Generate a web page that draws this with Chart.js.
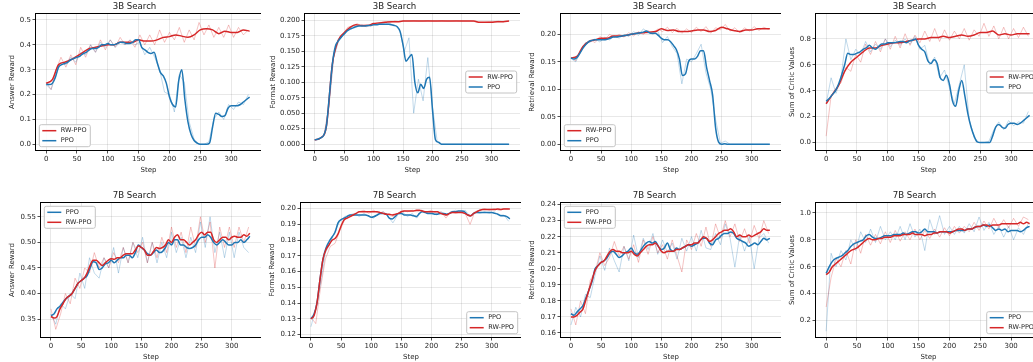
<!DOCTYPE html>
<html>
<head>
<meta charset="utf-8">
<script src="https://cdn.jsdelivr.net/npm/chart.js@4"></script>
<style>
  html, body { margin: 0; padding: 0; background: #fff; width: 1033px; height: 362px; overflow: hidden; position: relative; }
  canvas { position: absolute; }
</style>
</head>
<body>
<script>
// step grids
const steps5 = [0,5,10,15,20,25,30,35,40,45,50,55,60,65,70,75,80,85,90,95,100,105,110,115,120,125,130,135,140,145,150,155,160,165,170,175,180,185,190,195,200,205,210,215,220,225,230,235,240,245,250,255,260,265,270,275,280,285,290,295,300,305,310,315,320,325,330];
const steps10 = [0,10,20,30,40,50,60,70,80,90,100,110,120,130,140,150,160,170,180,190,200,210,220,230,240,250,260,270,280,290,300,310,320,330];
const rawSteps = [0,8,16,24,32,40,48,56,64,72,80,88,96,104,112,120,128,136,144,152,160,168,176,184,192,200,208,216,224,232,240,248,256,264,272,280,288,296,304,312,320,328];
const xTicks = [0,50,100,150,200,250,300];

// 3B answer reward
const ans3bRw = [0.245,0.26,0.32,0.33,0.34,0.355,0.37,0.385,0.39,0.395,0.40,0.40,0.41,0.41,0.41,0.42,0.415,0.415,0.42,0.43,0.433,0.44,0.435,0.43,0.44,0.46,0.465,0.46,0.445,0.455,0.45,0.45,0.46,0.455];
const ans3bPpo = [0.240,0.240,0.245,0.270,0.310,0.320,0.325,0.330,0.340,0.345,
  0.350,0.355,0.365,0.370,0.380,0.385,0.385,0.390,0.400,0.400,
  0.405,0.400,0.400,0.405,0.410,0.410,0.405,0.405,0.410,0.420,
  0.420,0.390,0.380,0.370,0.365,0.370,0.330,0.290,0.275,0.245,
  0.190,0.160,0.150,0.255,0.300,0.180,0.090,0.040,0.015,0.005,
  0.000,0.000,0.000,0.005,0.070,0.125,0.120,0.112,0.115,0.145,
  0.155,0.155,0.155,0.160,0.170,0.180,0.190];
const ans3bRwRaw = [0.25,0.22,0.30,0.35,0.31,0.36,0.32,0.39,0.35,0.40,0.37,0.42,0.38,0.42,0.39,0.43,0.40,0.42,0.39,0.44,0.40,0.44,0.40,0.46,0.41,0.45,0.42,0.47,0.41,0.46,0.42,0.49,0.44,0.48,0.43,0.47,0.43,0.48,0.43,0.47,0.44,0.46];
const ans3bPpoRaw = [0.24,0.22,0.28,0.33,0.32,0.35,0.33,0.37,0.36,0.40,0.37,0.41,0.39,0.42,0.39,0.41,0.40,0.42,0.40,0.41,0.36,0.39,0.35,0.30,0.21,0.20,0.13,0.28,0.25,0.09,0.02,0.00,0.00,0.01,0.10,0.13,0.10,0.16,0.14,0.17,0.16,0.20];
const ansTicks3b = [0,0.1,0.2,0.3,0.4,0.5];

// 3B format reward
const fmt3bRw = [0.007,0.010,0.030,0.130,0.168,0.180,0.189,0.193,0.192,0.192,0.195,0.196,0.197,0.198,0.198,0.199,0.199,0.199,0.199,0.199,0.199,0.199,0.199,0.199,0.199,0.199,0.199,0.199,0.197,0.197,0.197,0.198,0.198,0.199];
const fmt3bPpo = [0.007,0.008,0.010,0.014,0.030,0.080,0.130,0.158,0.167,0.173,
  0.178,0.183,0.186,0.188,0.190,0.191,0.191,0.191,0.192,0.192,
  0.193,0.193,0.194,0.194,0.194,0.194,0.193,0.192,0.190,0.182,
  0.160,0.134,0.140,0.145,0.100,0.083,0.097,0.090,0.105,0.108,
  0.055,0.007,0.003,0,0,0,0,0,0,0,
  0,0,0,0,0,0,0,0,0,0,
  0,0,0,0,0,0,0];
const fmt3bRwRaw = [0.006,0.009,0.015,0.060,0.140,0.170,0.178,0.189,0.191,0.195,0.191,0.193,0.191,0.196,0.197,0.198,0.197,0.199,0.198,0.199,0.199,0.200,0.199,0.199,0.200,0.199,0.199,0.200,0.199,0.199,0.200,0.199,0.199,0.199,0.198,0.197,0.197,0.198,0.198,0.199,0.198,0.199];
const fmt3bPpoRaw = [0.006,0.009,0.015,0.060,0.140,0.165,0.176,0.185,0.190,0.191,0.193,0.190,0.193,0.194,0.195,0.194,0.195,0.192,0.186,0.150,0.172,0.050,0.105,0.070,0.140,0.060,0.004,0,0,0,0,0,0,0,0,0,0,0,0,0,0,0];
const fmtTicks3b = [0,0.025,0.05,0.075,0.1,0.125,0.15,0.175,0.2];

// 3B retrieval reward
const ret3bRw = [0.157,0.160,0.178,0.187,0.190,0.193,0.193,0.197,0.197,0.198,0.200,0.202,0.203,0.204,0.205,0.210,0.207,0.208,0.205,0.205,0.206,0.208,0.208,0.205,0.207,0.213,0.210,0.207,0.205,0.208,0.208,0.210,0.210,0.210];
const ret3bPpo = [0.157,0.155,0.158,0.166,0.175,0.182,0.187,0.189,0.190,0.190,
  0.190,0.190,0.191,0.193,0.195,0.195,0.196,0.197,0.198,0.199,
  0.200,0.201,0.202,0.203,0.204,0.206,0.203,0.202,0.202,0.198,
  0.193,0.190,0.190,0.187,0.180,0.172,0.155,0.125,0.128,0.150,
  0.155,0.155,0.160,0.170,0.170,0.140,0.116,0.090,0.030,0.004,
  0,0.001,0,0,0,0,0,0,0,0,
  0,0,0,0,0,0,0];
const ret3bRwRaw = [0.158,0.152,0.172,0.180,0.190,0.185,0.196,0.190,0.200,0.195,0.200,0.195,0.203,0.197,0.205,0.200,0.207,0.201,0.210,0.205,0.213,0.203,0.211,0.202,0.210,0.203,0.213,0.205,0.214,0.202,0.212,0.208,0.218,0.206,0.212,0.203,0.212,0.206,0.214,0.207,0.213,0.209];
const ret3bPpoRaw = [0.156,0.150,0.168,0.185,0.186,0.192,0.186,0.195,0.190,0.197,0.193,0.200,0.196,0.205,0.198,0.210,0.204,0.200,0.206,0.185,0.196,0.178,0.165,0.110,0.155,0.150,0.165,0.182,0.130,0.100,0.045,0.002,0.006,0,0,0,0,0,0,0,0,0];
const retTicks3b = [0,0.05,0.1,0.15,0.2];

// 3B sum of critic values
const crit3bRw = [0.30,0.37,0.44,0.55,0.62,0.66,0.70,0.73,0.73,0.75,0.76,0.77,0.77,0.78,0.79,0.80,0.80,0.81,0.81,0.82,0.81,0.82,0.83,0.82,0.83,0.85,0.85,0.86,0.83,0.84,0.83,0.84,0.84,0.84];
const crit3bPpo = [0.32,0.34,0.37,0.40,0.45,0.52,0.60,0.69,0.68,0.68,
  0.69,0.70,0.72,0.73,0.75,0.73,0.72,0.74,0.76,0.76,
  0.77,0.77,0.77,0.775,0.78,0.78,0.77,0.785,0.79,0.80,
  0.75,0.72,0.70,0.63,0.61,0.64,0.61,0.50,0.48,0.52,
  0.45,0.32,0.28,0.40,0.48,0.36,0.22,0.12,0.05,0.005,
  0,0,0,0,0.05,0.12,0.14,0.12,0.11,0.14,
  0.15,0.15,0.14,0.15,0.17,0.19,0.21];
const crit3bRwRaw = [0.05,0.36,0.42,0.46,0.58,0.55,0.68,0.62,0.76,0.68,0.78,0.70,0.80,0.72,0.82,0.73,0.84,0.75,0.83,0.77,0.86,0.78,0.88,0.78,0.87,0.79,0.86,0.80,0.88,0.79,0.87,0.82,0.92,0.82,0.90,0.80,0.89,0.80,0.88,0.81,0.89,0.82];
const crit3bPpoRaw = [0.30,0.50,0.38,0.50,0.80,0.64,0.72,0.68,0.78,0.70,0.76,0.72,0.80,0.74,0.79,0.75,0.80,0.76,0.82,0.72,0.75,0.60,0.66,0.50,0.56,0.42,0.30,0.45,0.60,0.18,0.04,0,0,0.01,0.10,0.16,0.10,0.17,0.13,0.16,0.15,0.24];
const critTicks3b = [0,0.2,0.4,0.6,0.8];

// 7B answer reward
const ans7bPpo = [0.357,0.360,0.370,0.375,0.383,0.390,0.395,0.400,0.410,0.420,
  0.425,0.430,0.435,0.450,0.462,0.460,0.447,0.450,0.458,0.460,
  0.465,0.460,0.465,0.470,0.470,0.475,0.475,0.470,0.480,0.495,
  0.490,0.485,0.478,0.475,0.480,0.485,0.480,0.482,0.490,0.500,
  0.495,0.505,0.505,0.495,0.495,0.490,0.488,0.490,0.495,0.505,
  0.510,0.510,0.515,0.510,0.500,0.495,0.500,0.505,0.500,0.495,
  0.495,0.500,0.500,0.505,0.500,0.505,0.512];
const ans7bRw = [0.355,0.352,0.355,0.370,0.380,0.390,0.395,0.400,0.410,0.420,
  0.425,0.430,0.440,0.455,0.465,0.465,0.460,0.455,0.460,0.465,
  0.468,0.467,0.470,0.470,0.475,0.478,0.478,0.478,0.485,0.493,
  0.490,0.485,0.475,0.475,0.482,0.490,0.488,0.490,0.495,0.505,
  0.500,0.510,0.515,0.505,0.505,0.500,0.495,0.500,0.505,0.515,
  0.520,0.515,0.520,0.520,0.505,0.500,0.505,0.510,0.510,0.505,
  0.510,0.512,0.510,0.510,0.515,0.512,0.518];
const ans7bPpoRaw = [0.36,0.34,0.38,0.37,0.40,0.39,0.44,0.41,0.47,0.44,0.43,0.47,0.45,0.49,0.44,0.49,0.46,0.50,0.47,0.51,0.46,0.50,0.46,0.50,0.47,0.52,0.48,0.51,0.47,0.51,0.48,0.54,0.49,0.55,0.48,0.52,0.47,0.52,0.47,0.52,0.49,0.48];
const ans7bRwRaw = [0.37,0.33,0.36,0.40,0.38,0.43,0.41,0.45,0.44,0.48,0.45,0.47,0.45,0.48,0.46,0.49,0.46,0.50,0.48,0.50,0.46,0.50,0.47,0.51,0.48,0.53,0.49,0.52,0.48,0.53,0.49,0.55,0.50,0.54,0.45,0.53,0.49,0.53,0.49,0.53,0.50,0.53];
const ansTicks7b = [0.35,0.4,0.45,0.5,0.55];

// 7B format reward
const fmt7bPpo = [0.130,0.133,0.140,0.155,0.168,0.175,0.179,0.182,0.185,0.191,
  0.193,0.194,0.195,0.196,0.196,0.196,0.196,0.196,0.196,0.1955,
  0.1945,0.195,0.196,0.197,0.197,0.1965,0.194,0.1935,0.195,0.197,
  0.197,0.196,0.196,0.196,0.1955,0.195,0.197,0.198,0.1975,0.197,
  0.197,0.1965,0.1965,0.197,0.197,0.1965,0.197,0.198,0.198,0.1985,
  0.1985,0.198,0.196,0.1955,0.197,0.1975,0.1975,0.1975,0.1975,0.1975,
  0.1975,0.197,0.1965,0.1955,0.1955,0.195,0.1935];
const fmt7bRw = [0.130,0.132,0.140,0.155,0.168,0.174,0.177,0.180,0.181,0.184,
  0.189,0.193,0.194,0.195,0.196,0.197,0.198,0.198,0.198,0.198,
  0.198,0.198,0.198,0.1975,0.197,0.1965,0.1965,0.196,0.1965,0.197,
  0.198,0.1985,0.1985,0.1985,0.1985,0.199,0.199,0.1985,0.198,0.198,
  0.198,0.198,0.198,0.197,0.1965,0.196,0.197,0.1975,0.1975,0.1975,
  0.1975,0.197,0.196,0.1955,0.197,0.198,0.199,0.1995,0.1995,0.1995,
  0.1995,0.1995,0.1998,0.1995,0.1998,0.1998,0.1998];
const fmt7bPpoRaw = [0.125,0.137,0.152,0.172,0.178,0.186,0.192,0.195,0.196,0.197,0.195,0.197,0.195,0.194,0.197,0.198,0.195,0.191,0.196,0.198,0.195,0.197,0.194,0.199,0.197,0.198,0.196,0.198,0.196,0.198,0.199,0.198,0.199,0.195,0.198,0.197,0.198,0.197,0.198,0.196,0.196,0.192];
const fmt7bRwRaw = [0.131,0.127,0.150,0.168,0.176,0.178,0.186,0.193,0.195,0.196,0.198,0.199,0.197,0.199,0.197,0.198,0.196,0.195,0.197,0.199,0.198,0.199,0.198,0.199,0.198,0.199,0.197,0.198,0.194,0.198,0.197,0.198,0.197,0.190,0.198,0.199,0.200,0.199,0.200,0.199,0.200,0.200];
const fmtTicks7b = [0.12,0.13,0.14,0.15,0.16,0.17,0.18,0.19,0.2];

// 7B retrieval reward
const ret7bPpo = [0.172,0.171,0.173,0.175,0.177,0.182,0.187,0.192,0.200,0.202,
  0.204,0.205,0.207,0.210,0.211,0.209,0.207,0.208,0.210,0.211,
  0.213,0.210,0.209,0.211,0.214,0.216,0.217,0.216,0.217,0.214,
  0.212,0.213,0.216,0.212,0.211,0.213,0.212,0.213,0.214,0.215,
  0.214,0.215,0.216,0.218,0.219,0.219,0.216,0.215,0.218,0.219,
  0.221,0.222,0.222,0.223,0.222,0.219,0.218,0.217,0.216,0.214,
  0.215,0.216,0.215,0.217,0.219,0.218,0.219];
const ret7bRw = [0.170,0.170,0.171,0.173,0.175,0.181,0.187,0.193,0.199,0.202,
  0.204,0.205,0.208,0.211,0.212,0.211,0.211,0.210,0.210,0.210,
  0.211,0.209,0.208,0.210,0.212,0.214,0.215,0.215,0.216,0.214,
  0.211,0.210,0.211,0.211,0.211,0.212,0.212,0.213,0.214,0.215,
  0.215,0.216,0.216,0.218,0.220,0.219,0.217,0.218,0.220,0.222,
  0.223,0.224,0.224,0.225,0.223,0.220,0.221,0.220,0.220,0.221,
  0.220,0.221,0.222,0.223,0.225,0.224,0.224];
const ret7bPpoRaw = [0.165,0.176,0.170,0.184,0.182,0.196,0.208,0.199,0.213,0.205,0.198,0.214,0.205,0.221,0.207,0.219,0.212,0.222,0.209,0.218,0.210,0.216,0.206,0.219,0.211,0.220,0.211,0.224,0.213,0.212,0.222,0.215,0.228,0.219,0.201,0.221,0.211,0.220,0.200,0.219,0.222,0.216];
const ret7bRwRaw = [0.175,0.165,0.180,0.172,0.193,0.198,0.210,0.202,0.207,0.217,0.208,0.214,0.206,0.215,0.204,0.218,0.209,0.220,0.210,0.215,0.206,0.218,0.208,0.198,0.218,0.212,0.222,0.214,0.226,0.214,0.228,0.219,0.230,0.220,0.228,0.217,0.225,0.216,0.227,0.219,0.230,0.222];
const retTicks7b = [0.16,0.17,0.18,0.19,0.2,0.21,0.22,0.23,0.24];

// 7B sum of critic values
const crit7bPpo = [0.55,0.60,0.64,0.66,0.67,0.68,0.70,0.72,0.75,0.77,
  0.78,0.79,0.80,0.83,0.84,0.82,0.81,0.81,0.82,0.83,
  0.83,0.83,0.84,0.84,0.84,0.85,0.84,0.85,0.86,0.86,
  0.85,0.86,0.88,0.86,0.86,0.86,0.85,0.86,0.86,0.86,
  0.86,0.86,0.87,0.87,0.87,0.87,0.88,0.88,0.89,0.90,
  0.90,0.91,0.90,0.91,0.89,0.87,0.88,0.87,0.88,0.86,
  0.87,0.87,0.87,0.86,0.87,0.89,0.90];
const crit7bRw = [0.54,0.56,0.60,0.62,0.64,0.66,0.68,0.70,0.72,0.73,
  0.74,0.76,0.78,0.80,0.81,0.80,0.80,0.81,0.81,0.82,
  0.82,0.82,0.83,0.83,0.83,0.84,0.84,0.84,0.85,0.84,
  0.84,0.84,0.83,0.84,0.84,0.85,0.85,0.86,0.86,0.86,
  0.85,0.86,0.87,0.88,0.88,0.87,0.88,0.88,0.89,0.90,
  0.90,0.91,0.91,0.90,0.91,0.91,0.91,0.92,0.92,0.92,
  0.92,0.92,0.92,0.93,0.92,0.93,0.92];
const crit7bPpoRaw = [0.12,0.70,0.60,0.72,0.65,0.80,0.72,0.86,0.78,0.88,0.78,0.90,0.80,0.86,0.80,0.90,0.80,0.92,0.82,0.88,0.72,0.95,0.84,0.98,0.84,0.90,0.84,0.90,0.85,0.92,0.86,0.97,0.87,0.93,0.84,0.90,0.82,0.90,0.80,0.89,0.84,0.92];
const crit7bRwRaw = [0.30,0.52,0.66,0.60,0.72,0.62,0.80,0.70,0.84,0.76,0.84,0.77,0.86,0.78,0.87,0.79,0.86,0.80,0.88,0.80,0.87,0.81,0.88,0.82,0.89,0.83,0.90,0.85,0.90,0.86,0.93,0.87,0.94,0.88,0.96,0.89,0.95,0.89,0.96,0.90,0.97,0.95];
const critTicks7b = [0.2,0.4,0.6,0.8,1.0];

const RED = '#d62728';
const BLUE = '#1f77b4';
const RED_RAW = 'rgba(214,39,40,0.28)';
const BLUE_RAW = 'rgba(31,119,180,0.28)';
const TEXT = '#262626';

Chart.defaults.font.family = "'DejaVu Sans', sans-serif";
Chart.defaults.color = TEXT;

// x/y canvas placement, y-axis width, plot size
const panels = [
  { x: 8, y: 0, wy: 28, w: 225, h: 136, title: '3B Search', yLabel: 'Answer Reward', min: -0.023, max: 0.524, ticks: ansTicks3b, dec: 1, legend: 'lower left', row: 'top',
    rwX: steps10, rw: ans3bRw, ppoX: steps5, ppo: ans3bPpo, rwRaw: ans3bRwRaw, ppoRaw: ans3bPpoRaw },
  { x: 269, y: 0, wy: 36, w: 215, h: 136, title: '3B Search', yLabel: 'Format Reward', min: -0.0095, max: 0.2105, ticks: fmtTicks3b, dec: 3, legend: 'center right', row: 'top',
    rwX: steps10, rw: fmt3bRw, ppoX: steps5, ppo: fmt3bPpo, rwRaw: fmt3bRwRaw, ppoRaw: fmt3bPpoRaw },
  { x: 528, y: 0, wy: 33, w: 220, h: 136, title: '3B Search', yLabel: 'Retrieval Reward', min: -0.0103, max: 0.237, ticks: retTicks3b, dec: 2, legend: 'lower left', row: 'top',
    rwX: steps10, rw: ret3bRw, ppoX: steps5, ppo: ret3bPpo, rwRaw: ret3bRwRaw, ppoRaw: ret3bPpoRaw },
  { x: 788, y: 0, wy: 28, w: 225, h: 136, title: '3B Search', yLabel: 'Sum of Critic Values', min: -0.057, max: 0.992, ticks: critTicks3b, dec: 1, legend: 'center right', row: 'top',
    rwX: steps10, rw: crit3bRw, ppoX: steps5, ppo: crit3bPpo, rwRaw: crit3bRwRaw, ppoRaw: crit3bPpoRaw },
  { x: 8, y: 189, wy: 33, w: 220, h: 134, title: '7B Search', yLabel: 'Answer Reward', min: 0.315, max: 0.577, ticks: ansTicks7b, dec: 2, legend: 'upper left', row: 'bottom',
    rwX: steps5, rw: ans7bRw, ppoX: steps5, ppo: ans7bPpo, rwRaw: ans7bRwRaw, ppoRaw: ans7bPpoRaw },
  { x: 268, y: 189, wy: 33, w: 220, h: 134, title: '7B Search', yLabel: 'Format Reward', min: 0.1185, max: 0.2036, ticks: fmtTicks7b, dec: 2, legend: 'lower right', row: 'bottom',
    rwX: steps5, rw: fmt7bRw, ppoX: steps5, ppo: fmt7bPpo, rwRaw: fmt7bRwRaw, ppoRaw: fmt7bPpoRaw },
  { x: 528, y: 189, wy: 33, w: 220, h: 134, title: '7B Search', yLabel: 'Retrieval Reward', min: 0.1575, max: 0.241, ticks: retTicks7b, dec: 2, legend: 'upper left', row: 'bottom',
    rwX: steps5, rw: ret7bRw, ppoX: steps5, ppo: ret7bPpo, rwRaw: ret7bRwRaw, ppoRaw: ret7bPpoRaw },
  { x: 788, y: 189, wy: 28, w: 225, h: 134, title: '7B Search', yLabel: 'Sum of Critic Values', min: 0.077, max: 1.074, ticks: critTicks7b, dec: 1, legend: 'lower right', row: 'bottom',
    rwX: steps5, rw: crit7bRw, ppoX: steps5, ppo: crit7bPpo, rwRaw: crit7bRwRaw, ppoRaw: crit7bPpoRaw },
];

const TITLE_H = 14;
const XAXIS_H = 24;

function pts(xs, ys) {
  return xs.map((x, i) => ({ x: x, y: ys[i] }));
}

function boxPath(ctx, x, y, w, h, r) {
  ctx.beginPath();
  ctx.moveTo(x + r, y);
  ctx.arcTo(x + w, y, x + w, y + h, r);
  ctx.arcTo(x + w, y + h, x, y + h, r);
  ctx.arcTo(x, y + h, x, y, r);
  ctx.arcTo(x, y, x + w, y, r);
  ctx.closePath();
}

// matplotlib-like frame + legend inside the axes
const frameLegend = {
  id: 'frameLegend',
  afterDatasetsDraw(chart, args, opts) {
    const ctx = chart.ctx;
    const a = chart.chartArea;
    ctx.save();
    ctx.strokeStyle = '#000';
    ctx.lineWidth = 1;
    ctx.strokeRect(Math.round(a.left) - 0.5, Math.round(a.top) - 0.5, Math.round(a.right - a.left) + 1, Math.round(a.bottom - a.top) + 1);

    const w = 51, h = 22, m = 3.3;
    const bx = opts.where.endsWith('right') ? a.right - m - w : a.left + m;
    let by;
    if (opts.where.startsWith('upper')) by = a.top + m;
    else if (opts.where.startsWith('lower')) by = a.bottom - m - h;
    else by = (a.top + a.bottom - h) / 2;
    boxPath(ctx, bx, by, w, h, 2);
    ctx.fillStyle = 'rgba(255,255,255,0.85)';
    ctx.fill();
    ctx.strokeStyle = '#c4c4c4';
    ctx.lineWidth = 1;
    ctx.stroke();
    opts.items.forEach((it, i) => {
      const cy = by + 6 + i * 10;
      ctx.beginPath();
      ctx.moveTo(bx + 3, cy);
      ctx.lineTo(bx + 17, cy);
      ctx.strokeStyle = it.color;
      ctx.lineWidth = 1.5;
      ctx.stroke();
      ctx.fillStyle = TEXT;
      ctx.font = "6.5px 'DejaVu Sans'";
      ctx.textBaseline = 'middle';
      ctx.textAlign = 'left';
      ctx.fillText(it.label, bx + 21.5, cy);
    });
    ctx.restore();
  }
};

panels.forEach(p => {
  const canvas = document.createElement('canvas');
  canvas.width = p.wy + p.w;
  canvas.height = TITLE_H + p.h + XAXIS_H;
  canvas.style.left = p.x + 'px';
  canvas.style.top = p.y + 'px';
  document.body.appendChild(canvas);

  const smooth = (label, xs, ys, color) => ({
    label: label, data: pts(xs, ys), borderColor: color, borderWidth: 1.5,
    pointRadius: 0, cubicInterpolationMode: 'monotone', fill: false
  });
  const raw = (label, ys, color) => ({
    label: label, data: pts(rawSteps, ys), borderColor: color, borderWidth: 1,
    pointRadius: 0, tension: 0, fill: false
  });

  const ppo = smooth('PPO', p.ppoX, p.ppo, BLUE);
  const rw = smooth('RW-PPO', p.rwX, p.rw, RED);
  // first dataset is drawn last (on top)
  const datasets = p.row === 'top'
    ? [ppo, rw, raw('PPO raw', p.ppoRaw, BLUE_RAW), raw('RW-PPO raw', p.rwRaw, RED_RAW)]
    : [rw, ppo, raw('RW-PPO raw', p.rwRaw, RED_RAW), raw('PPO raw', p.ppoRaw, BLUE_RAW)];
  const items = p.row === 'top'
    ? [{ label: 'RW-PPO', color: RED }, { label: 'PPO', color: BLUE }]
    : [{ label: 'PPO', color: BLUE }, { label: 'RW-PPO', color: RED }];

  new Chart(canvas, {
    type: 'line',
    data: { datasets: datasets },
    plugins: [frameLegend],
    options: {
      responsive: false,
      animation: false,
      events: [],
      layout: { padding: 0 },
      plugins: {
        legend: { display: false },
        tooltip: { enabled: false },
        title: {
          display: true, text: p.title, color: '#1a1a1a',
          font: { size: 8.6, weight: 'normal' },
          padding: { top: 1.5, bottom: 2.18 }
        },
        frameLegend: { where: p.legend, items: items }
      },
      scales: {
        x: {
          type: 'linear', min: -16.5, max: 348.5,
          afterBuildTicks: s => { s.ticks = xTicks.map(v => ({ value: v })); },
          afterFit: s => { s.height = XAXIS_H; },
          ticks: { font: { size: 7 }, color: TEXT, padding: 1.5, maxRotation: 0, autoSkip: false, callback: v => String(v) },
          grid: { color: 'rgba(0,0,0,0.09)', lineWidth: 1, tickColor: TEXT, tickLength: 3.5, tickWidth: 0.8 },
          border: { display: false },
          title: { display: true, text: 'Step', font: { size: 7 }, color: TEXT, padding: 0 }
        },
        y: {
          type: 'linear', min: p.min, max: p.max,
          afterBuildTicks: s => { s.ticks = p.ticks.map(v => ({ value: v })); },
          afterFit: s => { s.width = p.wy; },
          ticks: { font: { size: 7 }, color: TEXT, padding: 1.5, autoSkip: false, callback: v => v.toFixed(p.dec) },
          grid: { color: 'rgba(0,0,0,0.09)', lineWidth: 1, tickColor: TEXT, tickLength: 3.5, tickWidth: 0.8 },
          border: { display: false },
          title: { display: true, text: p.yLabel, font: { size: 7 }, color: TEXT, padding: 0 }
        }
      }
    }
  });
});
</script>
</body>
</html>
